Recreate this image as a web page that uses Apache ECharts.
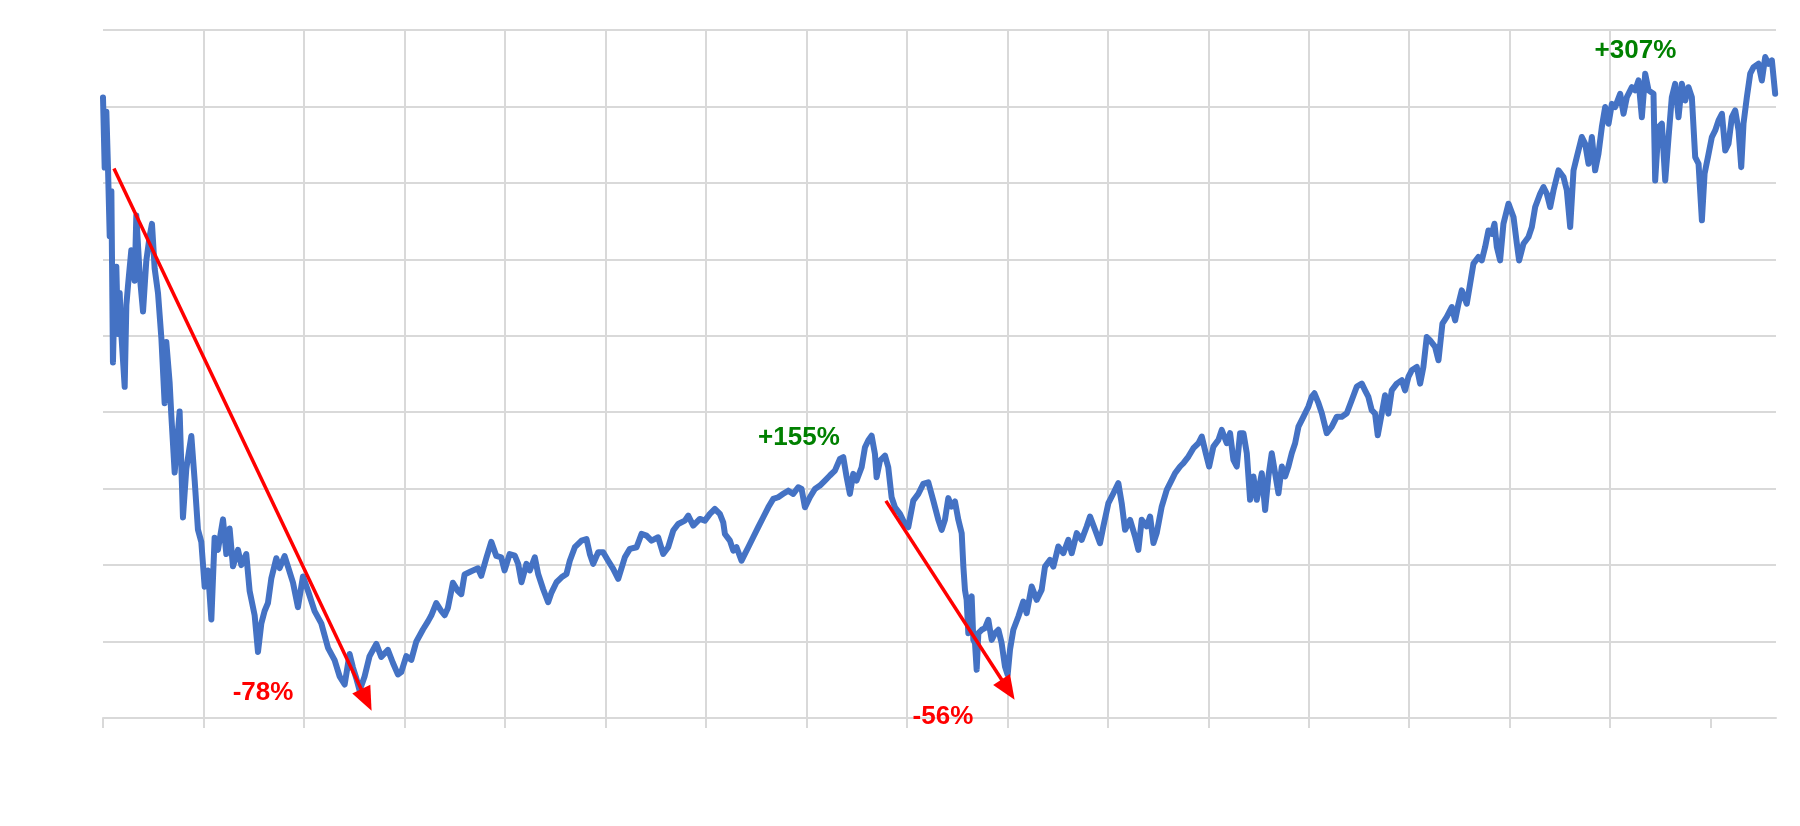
<!DOCTYPE html>
<html>
<head>
<meta charset="utf-8">
<script src="https://cdn.jsdelivr.net/npm/echarts@6/dist/echarts.min.js"></script>
<style>
  html, body { margin: 0; padding: 0; background: #ffffff; }
  #chart { width: 1800px; height: 826px; }
</style>
</head>
<body>
<div id="chart"></div>
<script>
// Months since the March 2000 peak (x) and index level (y)
const months = [
  0, 0.2, 0.4, 0.6, 0.8, 1.0, 1.19, 1.39, 1.59, 1.79, 1.99, 2.19, 2.59, 2.79, 2.99, 3.38, 3.78, 3.98, 4.38, 4.78,
  5.17, 5.57, 5.85, 6.17, 6.57, 6.97, 7.36, 7.56, 7.96, 8.16, 8.56, 9.15, 9.55, 9.95, 10.55, 10.95, 11.34, 11.74, 12.14, 12.54,
  12.94, 13.33, 13.73, 14.33, 14.73, 15.12, 15.52, 16.12, 16.52, 17.11, 17.51, 18.11, 18.51, 18.91, 19.30, 19.70, 20.10, 20.70, 21.09, 21.69,
  22.09, 22.69, 23.28, 23.88, 24.48, 25.27, 26.07, 26.87, 27.66, 28.26, 28.86, 29.45, 29.85, 30.25, 30.65, 31.24, 31.84, 32.64, 33.23, 34.03,
  34.63, 35.22, 35.62, 36.22, 36.82, 37.41, 38.21, 38.81, 39.20, 39.80, 40.40, 40.80, 41.19, 41.79, 42.39, 42.79, 43.18, 43.98, 44.78, 45.17,
  45.77, 46.37, 46.97, 47.56, 47.96, 48.56,
  49.18, 49.58, 49.98, 50.57, 50.97, 51.57, 51.97, 52.56, 53.16, 53.56, 54.16, 54.76, 55.35, 55.75, 56.35, 57.15, 57.74, 58.14, 58.54, 59.14,
  59.73, 60.33, 60.93, 61.53, 62.32, 62.92, 63.72, 64.31, 64.91, 65.51, 66.30, 66.90, 67.50, 68.10, 68.69, 69.49, 69.89, 70.49, 71.28, 71.88,
  72.48, 73.07, 73.67, 74.07, 74.27, 74.87, 75.27, 75.66, 76.26, 76.66, 77.06, 77.65, 78.25, 78.85, 79.45, 80.04, 80.64, 81.24, 81.84, 82.43,
  83.03, 83.43, 83.83, 84.42, 85.02, 85.62, 86.22, 86.81, 87.41, 88.01, 88.41, 88.81, 89.20, 89.60, 90.00, 90.60, 91.00, 91.39, 91.79, 92.19,
  92.39, 92.79, 93.39, 93.78, 94.18, 94.58, 95.18, 95.77, 96.17, 96.77, 97.37, 97.96, 98.56, 99.16,
  99.76, 100.16, 100.55, 100.95, 101.35, 101.75, 102.15, 102.55, 102.75, 102.94, 103.14, 103.34, 103.54, 103.74, 103.94, 104.14, 104.34, 104.54, 104.94, 105.33,
  105.73, 106.13, 106.53, 106.93, 107.32, 107.72, 108.04, 108.32, 108.72, 109.32, 109.91, 110.31, 110.91, 111.51, 112.10, 112.50, 113.10, 113.50, 114.09, 114.69,
  115.29, 115.69, 116.29, 116.88, 117.48, 117.88, 118.48, 119.07, 119.47, 120.07, 120.67, 121.26, 121.66, 122.06, 122.66, 123.26, 123.65, 124.05, 124.65, 125.05,
  125.45, 125.84, 126.44, 127.04, 127.64, 128.03, 128.63, 129.03, 129.63, 130.22, 130.82, 131.22, 131.70, 132.10, 132.61, 133.21, 133.61, 134.21, 134.60, 135.00,
  135.40, 135.80, 136.20, 136.60, 136.99, 137.39, 137.79, 138.39, 138.79, 139.18, 139.58, 139.98, 140.38, 140.78, 141.18, 141.57, 141.97, 142.37, 142.77, 143.37,
  143.96, 144.36, 144.68, 145.16, 145.56, 146.15, 146.75, 147.35, 147.95, 148.54, 149.14, 149.74,
  150.33, 150.72, 151.12, 151.52, 151.92, 152.24, 152.64, 153.11, 153.51, 153.91, 154.51, 155.11, 155.50, 155.90, 156.30, 156.90, 157.30, 157.69, 158.09, 158.49,
  159.09, 159.49, 159.96, 160.48, 161.08, 161.48, 161.88, 162.27, 162.87, 163.27, 163.67, 164.26, 164.66, 165.06, 165.46, 165.86, 166.18, 166.46, 166.85, 167.25,
  167.85, 168.45, 168.85, 169.12, 169.64, 170.24, 170.64, 171.04, 171.63, 172.03, 172.43, 172.83, 173.23, 173.82, 174.42, 174.82, 175.22, 175.62, 176.01, 176.61,
  177.01, 177.41, 177.81, 178.20, 178.60, 179.00, 179.40, 179.80, 180.20, 180.59, 181.19, 181.59, 181.99, 182.59, 182.98, 183.38, 183.78, 184.18, 184.58, 185.17,
  185.37, 185.77, 186.17, 186.57, 186.97, 187.36, 187.76, 188.16, 188.56, 188.96, 189.35, 189.75, 190.15, 190.55, 190.95, 191.27, 191.67, 192.14, 192.54, 192.94,
  193.34, 193.74, 194.13, 194.53, 194.93, 195.33, 195.65, 195.92, 196.32, 196.72, 197.12, 197.71, 198.11, 198.51, 198.91, 199.31, 199.70
];
const values = [
  5059, 4600, 4966, 4592, 4152, 4445, 3326, 3800, 3952, 3512, 3780, 3512, 3166, 3700, 3830, 4059, 3860, 4286, 3900, 3659,
  3990, 4150, 4232, 3940, 3779, 3486, 3059, 3460, 3192, 2979, 2605, 3005, 2312, 2630, 2845, 2552, 2232, 2152, 1859, 1965,
  1645, 2179, 2100, 2299, 2072, 2240, 1992, 2100, 2000, 2072, 1832, 1672, 1432, 1619, 1700, 1752, 1912, 2045, 1980, 2059,
  1990, 1885, 1725, 1925, 1832, 1699, 1619, 1459, 1379, 1272, 1219, 1419, 1330, 1260, 1179, 1272, 1405, 1485, 1400, 1445,
  1360, 1285, 1300, 1405, 1380, 1499, 1579, 1632, 1670, 1752, 1700, 1672, 1720, 1885, 1830, 1810, 1939, 1960, 1979, 1930,
  2045, 2152, 2060, 2050, 1965, 2072,
  2062, 2008, 1888, 2008, 1965, 2051, 1942, 1844, 1757, 1820, 1888, 1920, 1942, 2029, 2117, 2160, 2171, 2073, 2008, 2084,
  2084, 2029, 1975, 1910, 2051, 2106, 2117, 2204, 2193, 2160, 2182, 2073, 2117, 2226, 2269, 2291, 2324, 2258, 2302, 2291,
  2335, 2367, 2335, 2280, 2204, 2160, 2095, 2117, 2029, 2073, 2117, 2182, 2248, 2313, 2378, 2433, 2444, 2466, 2487, 2466,
  2509, 2498, 2378, 2444, 2498, 2520, 2553, 2586, 2618, 2695, 2706, 2575, 2466, 2597, 2553, 2640, 2771, 2815, 2847, 2727,
  2575, 2684, 2716, 2640, 2444, 2378, 2335, 2269, 2248, 2422, 2466, 2531, 2542, 2422,
  2296, 2231, 2296, 2438, 2383, 2416, 2296, 2209, 1990, 1838, 1773, 1555, 1773, 1795, 1511, 1490, 1316, 1555, 1577, 1588,
  1642, 1511, 1555, 1577, 1490, 1337, 1283, 1446, 1577, 1664, 1762, 1686, 1860, 1773, 1838, 1990, 2034, 1990, 2122, 2078,
  2165, 2078, 2209, 2165, 2253, 2318, 2231, 2144, 2253, 2405, 2470, 2536, 2405, 2231, 2296, 2187, 2100, 2296, 2253, 2318,
  2144, 2209, 2383, 2492, 2558, 2601, 2645, 2667, 2710, 2765, 2797, 2841, 2732, 2645, 2775, 2819, 2884, 2797, 2863, 2688,
  2645, 2863, 2863, 2732, 2427, 2580, 2427, 2601, 2361, 2580, 2732, 2601, 2470, 2645, 2580, 2645, 2732, 2797, 2906, 2971,
  3037, 3102, 3124, 3059, 2993, 2863, 2906, 2971, 2971, 2993, 3080, 3168,
  3187, 3143, 3100, 3013, 2991, 2849, 2969, 3111, 2991, 3143, 3187, 3209, 3143, 3231, 3274, 3296, 3187, 3296, 3492, 3470,
  3427, 3340, 3579, 3623, 3688, 3601, 3710, 3797, 3710, 3841, 3972, 4015, 3993, 4080, 4189, 4167, 4233, 4080, 3993, 4233,
  4364, 4277, 4102, 3993, 4102, 4146, 4211, 4342, 4429, 4473, 4429, 4342, 4451, 4582, 4538, 4451, 4211, 4582, 4669, 4800,
  4756, 4625, 4800, 4582, 4691, 4865, 4996, 4887, 5017, 4996, 5083, 4952, 5061, 5126, 5105, 5170, 4930, 5214, 5105, 5083,
  4516, 4865, 4887, 4516, 4800, 5061, 5148, 4930, 5148, 5039, 5126, 5061, 4669, 4625, 4255, 4560, 4669, 4800, 4843, 4909,
  4952, 4712, 4756, 4930, 4974, 4843, 4603, 4887, 5061, 5214, 5257, 5279, 5170, 5323, 5279, 5301, 5083
];

// Y axis range and grid step (index points), X grid step (months)
const yMin = 1000, yMax = 5500, yStep = 500;
const xMin = 0, xMax = 199.8, xStep = 12;

// Annotation arrows (data units): start and end of each move
const arrowFrom = [[1.31, 4594], [93.5, 2420]];
const arrowTo = [[31.46, 1118], [108.09, 1186]];

// Annotation labels
const labelTexts = ['-78%', '+155%', '-56%', '+307%'];
const labelAt = [[19.11, 1167], [83.11, 2832], [100.31, 1010], [183.01, 5366]];
const labelColors = ['#ff0000', '#008000', '#ff0000', '#008000'];

const seriesData = months.map((m, i) => [m, values[i]]);
const xTicks = [];
for (let v = xMin; v <= xMax; v += xStep) xTicks.push(v);

const chart = echarts.init(document.getElementById('chart'), null, { renderer: 'canvas' });
const gridColor = '#d9d9d9';

chart.setOption({
  animation: false,
  backgroundColor: '#ffffff',
  grid: { left: 103, right: 24, top: 30, bottom: 108, containLabel: false },
  xAxis: {
    type: 'value',
    min: xMin, max: xMax, interval: xStep,
    axisLine: { show: true, lineStyle: { color: gridColor, width: 2 } },
    axisTick: { show: true, length: 10, inside: false, customValues: xTicks, lineStyle: { color: gridColor, width: 2 } },
    axisLabel: { show: false },
    splitLine: { show: true, showMinLine: false, showMaxLine: false, lineStyle: { color: gridColor, width: 2 } }
  },
  yAxis: {
    type: 'value',
    min: yMin, max: yMax, interval: yStep,
    axisLine: { show: false },
    axisTick: { show: false },
    axisLabel: { show: false },
    splitLine: { show: true, lineStyle: { color: gridColor, width: 2 } }
  },
  series: [{
    type: 'line',
    data: seriesData,
    showSymbol: false,
    symbol: 'none',
    silent: true,
    lineStyle: { color: '#4472c4', width: 6, join: 'round', cap: 'round' },
    z: 3,
    markLine: {
      silent: true,
      symbol: ['none', 'triangle'],
      symbolSize: [20, 24],
      label: { show: false },
      lineStyle: { color: '#ff0000', width: 3.5, type: 'solid' },
      data: arrowFrom.map((p, i) => [{ coord: p }, { coord: arrowTo[i] }]),
      z: 5
    },
    markPoint: {
      silent: true,
      symbol: 'circle',
      symbolSize: 1,
      itemStyle: { color: 'rgba(0,0,0,0)' },
      data: labelTexts.map((t, i) => ({
        coord: labelAt[i],
        value: t,
        label: {
          show: true,
          position: 'inside',
          formatter: t,
          color: labelColors[i],
          fontFamily: 'Liberation Sans, Arial, sans-serif',
          fontWeight: 'bold',
          fontSize: 26
        }
      })),
      z: 6
    }
  }]
});
</script>
</body>
</html>
